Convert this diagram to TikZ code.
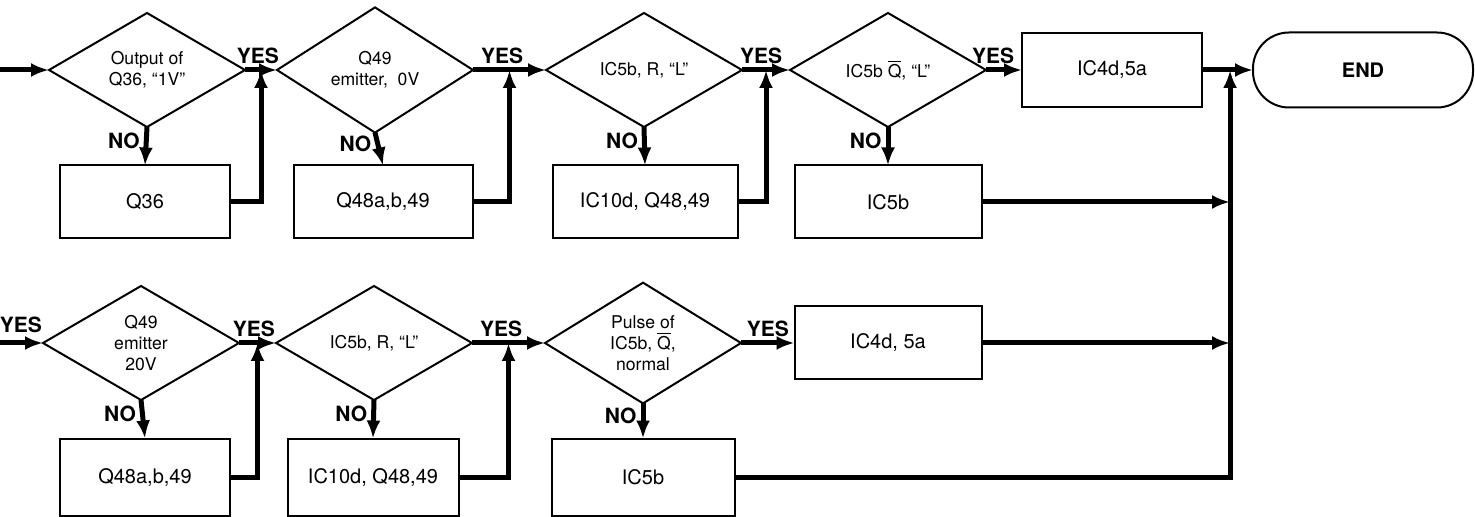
\documentclass[tikz,border=0pt]{standalone}
\usepackage{fontspec}
\setmainfont{TeX Gyre Heros}
\usetikzlibrary{shapes.geometric,arrows.meta,calc}
\begin{document}
\begin{tikzpicture}[x=0.5pt, y=-0.5pt, >={Latex[length=9pt,width=7pt]}, line width=1pt,
    dec/.style={diamond, draw, inner sep=0pt, outer sep=0pt, minimum width=98pt, minimum height=57pt, align=center, font=\fontsize{8.8}{10.5}\selectfont},
    proc/.style={rectangle, draw, inner sep=0pt, outer sep=0pt, minimum height=36.5pt, font=\fontsize{10}{12}\selectfont},
    ans/.style={font=\fontsize{10.5}{12}\selectfont\bfseries, inner sep=2pt},
    flow/.style={line width=2.5pt}]
    \useasboundingbox (0,0) rectangle (1475,517);
    % top row
    \draw (147,70) node[dec, name=D1]{Output of\\Q36, “1V”};
    \draw (375,70) node[dec, name=D2]{Q49\\emitter, \ 0V};
    \draw (644,70) node[dec, name=D3]{IC5b, R, “L”};
    \draw (888,70) node[dec, name=D4]{IC5b \(\overline{\mbox{Q}}\), “L”};
    \draw (145,202) node[proc, minimum width=85pt, name=P1]{Q36};
    \draw (383,202) node[proc, minimum width=89.5pt, name=P2]{Q48a,b,49};
    \draw (645,202) node[proc, minimum width=92.5pt, name=P3]{IC10d, Q48,49};
    \draw (888,202) node[proc, minimum width=93.5pt, name=P4]{IC5b};
    \draw (1112,70) node[proc, minimum width=90pt, minimum height=37pt, name=A1]{IC4d,5a};
    \draw (1363,70) node[proc, rounded corners=18pt, minimum width=110pt, minimum height=37.5pt, font=\fontsize{10}{12}\selectfont\bfseries, name=E]{END};
    % bottom row
    \draw (141,343) node[dec, name=D5]{Q49\\emitter\\20V};
    \draw (374,343) node[dec, name=D6]{IC5b, R, “L”};
    \draw (643,343) node[dec, name=D7]{Pulse of\\IC5b, \(\overline{\mbox{Q}}\),\\normal};
    \draw (888,343) node[proc, minimum width=93.5pt, name=A2]{IC4d, 5a};
    \draw (145,477) node[proc, minimum width=85pt, minimum height=38.5pt, name=P5]{Q48a,b,49};
    \draw (373,477) node[proc, minimum width=85.5pt, minimum height=38.5pt, name=P6]{IC10d, Q48,49};
    \draw (643,477) node[proc, minimum width=91.5pt, minimum height=38.5pt, name=P7]{IC5b};
    \draw (47,325) node[ans, anchor=east, name=Y0]{YES};
    \coordinate (in1) at (0,70);
    \coordinate (in2) at (0,343);
    \coordinate (T) at ($(A1.east)!.55!(E.west)$);
    % YES path
    \draw[flow,->] (in1) -- (D1.west);
    \draw[flow,->] (D1.east) -- node[ans, above, pos=.4]{YES} (D2.west);
    \draw[flow,->] (D2.east) -- node[ans, above, pos=.4]{YES} (D3.west);
    \draw[flow,->] (D3.east) -- node[ans, above, pos=.4]{YES} (D4.west);
    \draw[flow,->] (D4.east) -- node[ans, above, pos=.2]{YES} (A1.west);
    \draw[flow,->] (A1.east) -- (E.west);
    \draw[flow,->] (in2) -- (D5.west);
    \draw[flow,->] (D5.east) -- node[ans, above, pos=.4]{YES} (D6.west);
    \draw[flow,->] (D6.east) -- node[ans, above, pos=.4]{YES} (D7.west);
    \draw[flow,->] (D7.east) -- node[ans, above]{YES} (A2.west);
    % NO path
    \draw[flow,->] (D1.south) -- node[ans, left, pos=.35]{NO} (P1.north);
    \draw[flow,->] (D2.south) -- node[ans, left, pos=.35]{NO} (P2.north);
    \draw[flow,->] (D3.south) -- node[ans, left, pos=.35]{NO} (P3.north);
    \draw[flow,->] (D4.south) -- node[ans, left, pos=.35]{NO} (P4.north);
    \draw[flow,->] (D5.south) -- node[ans, left, pos=.35]{NO} (P5.north);
    \draw[flow,->] (D6.south) -- node[ans, left, pos=.35]{NO} (P6.north);
    \draw[flow,->] (D7.south) -- node[ans, left, pos=.35]{NO} (P7.north);
    % back to the main line
    \draw[flow,->] (P1.east) -| ($(D1.east)!.5!(D2.west)$);
    \draw[flow,->] (P2.east) -| ($(D2.east)!.5!(D3.west)$);
    \draw[flow,->] (P3.east) -| ($(D3.east)!.5!(D4.west)$);
    \draw[flow,->] (P5.east) -| ($(D5.east)!.5!(D6.west)$);
    \draw[flow,->] (P6.east) -| ($(D6.east)!.5!(D7.west)$);
    % to END
    \draw[flow,->] (P7.east) -| (T);
    \draw[flow,->] (P4.east) -- (P4.east -| T);
    \draw[flow,->] (A2.east) -- (A2.east -| T);
\end{tikzpicture}
\end{document}
